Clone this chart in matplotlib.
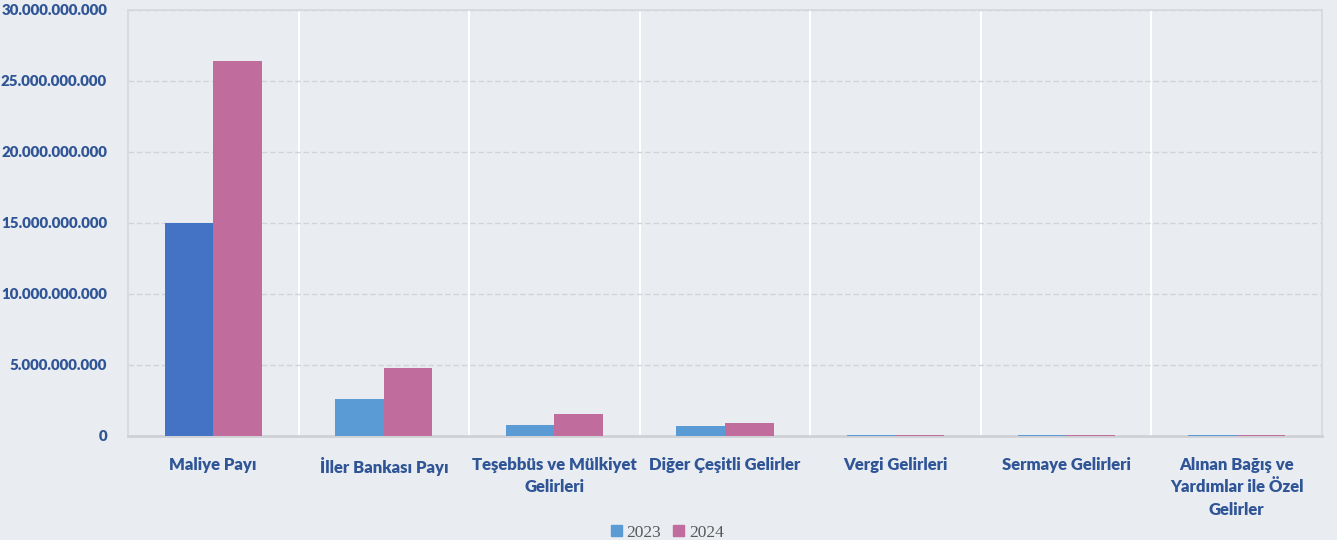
import numpy as np
import matplotlib
matplotlib.use("Agg")
import matplotlib.pyplot as plt
from matplotlib.ticker import FuncFormatter
from matplotlib.patches import Patch

categories = ["Maliye Payı", "İller Bankası Payı", "Teşebbüs ve Mülkiyet\nGelirleri",
              "Diğer Çeşitli Gelirler", "Vergi Gelirleri", "Sermaye Gelirleri",
              "Alınan Bağış ve\nYardımlar ile Özel\nGelirler"]
values_2023 = [15.0e9, 2.6e9, 0.78e9, 0.7e9, 0.07e9, 0.06e9, 0.07e9]
values_2024 = [26.4e9, 4.8e9, 1.57e9, 0.88e9, 0.09e9, 0.08e9, 0.09e9]
yticks = [0, 5e9, 10e9, 15e9, 20e9, 25e9, 30e9]

bg = "#e9ecf0"
label_col = "#2f5597"
c2023 = "#5b9bd5"
c2024 = "#c06c9c"
c_first = "#4472c4"

fig = plt.figure(figsize=(13.37, 5.4), dpi=100, facecolor=bg)
ax = fig.add_axes([0.0957, 0.1926, 0.8931, 0.7889])
ax.set_facecolor(bg)

x = np.arange(len(categories))
w = 0.285
colors_2023 = [c_first] + [c2023] * (len(categories) - 1)
ax.bar(x - w / 2, values_2023, w, color=colors_2023, zorder=3)
ax.bar(x + w / 2, values_2024, w, color=c2024, zorder=3)

ax.set_xlim(-0.5, len(categories) - 0.5)
ax.set_ylim(0, 30e9)
ax.set_yticks(yticks)
ax.yaxis.set_major_formatter(FuncFormatter(lambda v, p: f"{int(v):,}".replace(",", ".")))
ax.grid(axis="y", color="#d0d3d7", linestyle=(0, (4, 2)), linewidth=1, zorder=0)

# white separators between categories
for s in np.arange(0.5, len(categories) - 0.5, 1):
    ax.axvline(s, color="white", linewidth=1.5, zorder=1)

for side in ["left", "top", "right"]:
    ax.spines[side].set_color("#d6d8db")
    ax.spines[side].set_linewidth(1.2)
ax.spines["bottom"].set_color("#cfd1d4")
ax.spines["bottom"].set_linewidth(2)

ax.set_xticks(x)
ax.set_xticklabels(categories, fontsize=12, fontweight="heavy", color=label_col,
                   family="Lato", linespacing=1.5, va="top")
ax.tick_params(axis="x", length=0, pad=15)
ax.tick_params(axis="y", length=0, pad=15, labelsize=10.8, labelcolor=label_col)
for t in ax.get_yticklabels():
    t.set_fontweight("heavy")
    t.set_family("Lato")

handles = [Patch(color=c2023, label="2023"), Patch(color=c2024, label="2024")]
leg = fig.legend(handles=handles, loc="lower center", bbox_to_anchor=(0.499, -0.03), ncol=2,
                 frameon=False, handlelength=0.65, handleheight=0.65, handletextpad=0.25,
                 columnspacing=0.7, prop={"family": "Liberation Serif", "size": 12.5})
for t in leg.get_texts():
    t.set_color("#595959")

fig.savefig("out.png", dpi=100, facecolor=bg)
